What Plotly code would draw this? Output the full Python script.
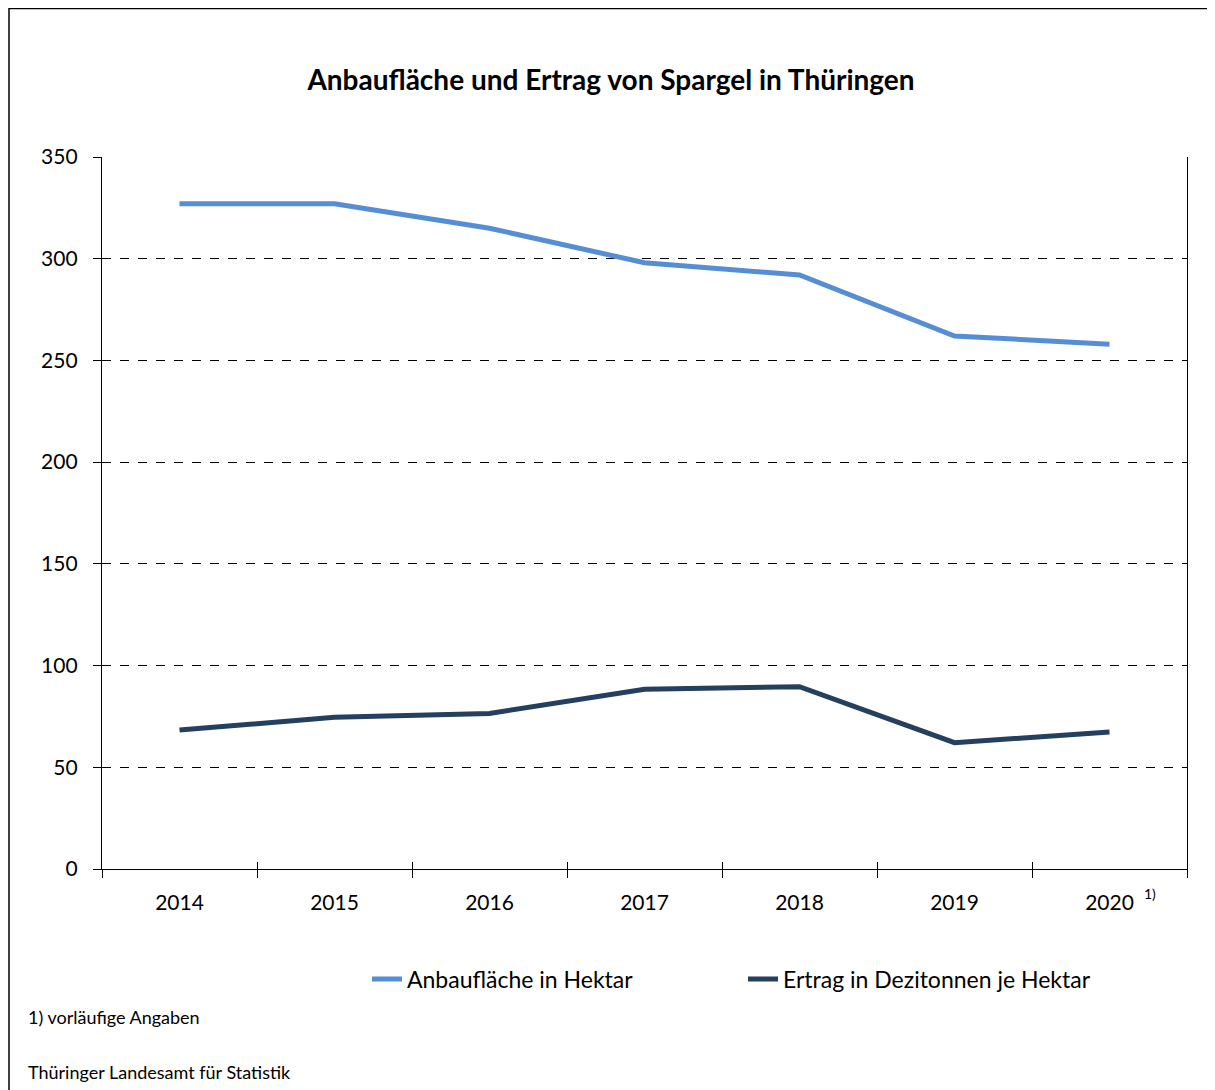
import plotly.graph_objects as go

years = ["2014", "2015", "2016", "2017", "2018", "2019", "2020"]
anbauflaeche = [327, 327, 315, 298, 292, 262, 258]
ertrag = [68.3, 74.6, 76.5, 88.3, 89.6, 62.1, 67.3]
y_ticks = [0, 50, 100, 150, 200, 250, 300, 350]

name_a = "Anbaufläche in Hektar"
name_e = "Ertrag in Dezitonnen je Hektar"
title = "Anbaufläche und Ertrag von Spargel in Thüringen"
footnote = "1) vorläufige Angaben"
source = "Thüringer Landesamt für Statistik"

FONT = "Lato, 'Source Sans Pro', 'Noto Sans', sans-serif"
col_a = "#558ED5"
col_e = "#243F60"

W, H = 1207, 1082          # page has 8px body margin
L, R, T, B = 94, 28, 149, 221
PW, PH = W - L - R, H - T - B

fig = go.Figure()
fig.add_trace(go.Scatter(x=years, y=anbauflaeche, mode="lines", name=name_a,
                         line=dict(color=col_a, width=5)))
fig.add_trace(go.Scatter(x=years, y=ertrag, mode="lines", name=name_e,
                         line=dict(color=col_e, width=5)))
# invisible helper trace for the inside tick marks of the x axis
fig.add_trace(go.Scatter(x=years, y=ertrag, xaxis="x2", mode="lines",
                         line=dict(width=0), showlegend=False, hoverinfo="skip",
                         opacity=0))

fig.update_layout(
    width=W, height=H,
    paper_bgcolor="white", plot_bgcolor="white",
    margin=dict(l=L, r=R, t=T, b=B),
    font=dict(family=FONT, size=21, color="black"),
    title=dict(text="<b>" + title + "</b>", x=(611 - 8) / W, xanchor="center",
               y=1 - 72 / H, yanchor="middle",
               font=dict(family=FONT, size=28, color="black")),
    showlegend=True,
    legend=dict(orientation="h", x=(743 - 102) / PW, xanchor="center",
                y=(861 - 971) / PH, yanchor="middle",
                font=dict(family=FONT, size=23),
                entrywidth=331, entrywidthmode="pixels",
                tracegroupgap=0, bgcolor="rgba(0,0,0,0)"),
    xaxis=dict(type="category", categoryorder="array", categoryarray=years,
               showline=True, linecolor="black", linewidth=1.3,
               ticks="outside", tickson="boundaries", ticklen=8,
               tickcolor="black", tickwidth=1.3, showgrid=False,
               tickfont=dict(size=21), ticklabelstandoff=15,
               range=[-0.5, len(years) - 0.5]),
    xaxis2=dict(type="category", overlaying="x", matches="x", anchor="y",
                side="bottom", ticks="inside", tickson="boundaries", ticklen=7,
                tickcolor="black", tickwidth=1.3, showticklabels=False,
                showgrid=False, showline=False),
    yaxis=dict(range=[0, 350], tickvals=y_ticks, showline=True, mirror=True,
               linecolor="black", linewidth=1.3, ticks="outside", ticklen=8,
               tickcolor="black", tickwidth=1.3, showgrid=True,
               gridcolor="black", griddash="dash", gridwidth=1,
               zeroline=False, tickfont=dict(size=21), ticklabelstandoff=11),
)

# superscript footnote marker next to the last year label
fig.add_annotation(x=(1150 - 102) / PW, y=-24 / PH, xref="paper", yref="paper",
                   text="1)", showarrow=False, xanchor="center", yanchor="middle",
                   font=dict(family=FONT, size=14, color="black"))

fig.add_annotation(x=(18 - L) / PW, y=(861 - 1009) / PH, xref="paper", yref="paper",
                   text=footnote, showarrow=False, xanchor="left", yanchor="middle",
                   font=dict(family=FONT, size=18, color="black"))
fig.add_annotation(x=(18 - L) / PW, y=(861 - 1064) / PH, xref="paper", yref="paper",
                   text=source, showarrow=False, xanchor="left", yanchor="middle",
                   font=dict(family=FONT, size=18, color="black"))

# outer frame (left and top edges visible)
fig.add_shape(type="rect", xref="paper", yref="paper",
              x0=(1 - L) / PW, x1=1.2, y0=-0.5, y1=(T - 0.5) / PH + 1,
              line=dict(color="black", width=1.5), fillcolor="rgba(0,0,0,0)",
              layer="above")

fig.write_html("out.html")
